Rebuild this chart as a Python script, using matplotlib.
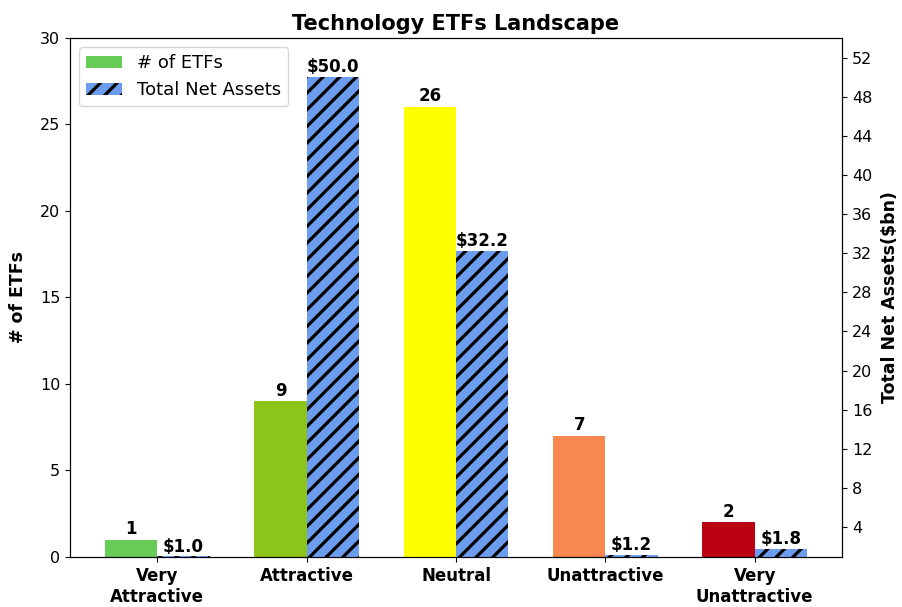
import numpy as np
import matplotlib
matplotlib.use('Agg')
import matplotlib.pyplot as plt

categories = ['Very\nAttractive', 'Attractive', 'Neutral', 'Unattractive', 'Very\nUnattractive']
num_etfs = [1, 9, 26, 7, 2]
net_assets = [1.0, 50.0, 32.2, 1.2, 1.8]
bar_colors = ['#66cc55', '#8cc41a', '#ffff00', '#f88850', '#bb0011']

plt.rcParams['hatch.linewidth'] = 2.3

fig = plt.figure(figsize=(9.02, 6.07), dpi=100)
ax = fig.add_axes([0.0776, 0.0824, 0.856, 0.855])
ax2 = ax.twinx()

x = np.arange(len(categories))
w = 0.35

b1 = ax.bar(x - w/2, num_etfs, w, color=bar_colors, label='# of ETFs')
b2 = ax2.bar(x + w/2, net_assets, w, color='#6b9cee', hatch='//', edgecolor='black',
             linewidth=0, label='Total Net Assets')

for rect, v in zip(b1, num_etfs):
    ax.text(rect.get_x() + rect.get_width()/2, v + 0.1, str(v),
            ha='center', va='bottom', fontsize=12, fontweight='bold')
for rect, v in zip(b2, net_assets):
    ax2.text(rect.get_x() + rect.get_width()/2, v + 0.1, '$%.1f' % v,
             ha='center', va='bottom', fontsize=12, fontweight='bold')

ax.set_ylim(0, 30)
ax2.set_ylim(0.95, 54)
ax2.set_yticks(np.arange(4, 53, 4))
ax.set_xlim(-0.585, 4.585)

ax.set_xticks(x)
ax.set_xticklabels(categories, fontsize=12, fontweight='bold')
ax.tick_params(axis='y', labelsize=11.5)
ax2.tick_params(axis='y', labelsize=11.5)

ax.set_ylabel('# of ETFs', fontsize=12.5, fontweight='bold', labelpad=9)
ax2.set_ylabel('Total Net Assets($bn)', fontsize=12.5, fontweight='bold', labelpad=6)
ax.set_title('Technology ETFs Landscape', fontsize=15, fontweight='bold')

h1, l1 = ax.get_legend_handles_labels()
h2, l2 = ax2.get_legend_handles_labels()
ax2.legend(h1 + h2, l1 + l2, loc='upper left', fontsize=13)

fig.savefig('out.png', dpi=100)
